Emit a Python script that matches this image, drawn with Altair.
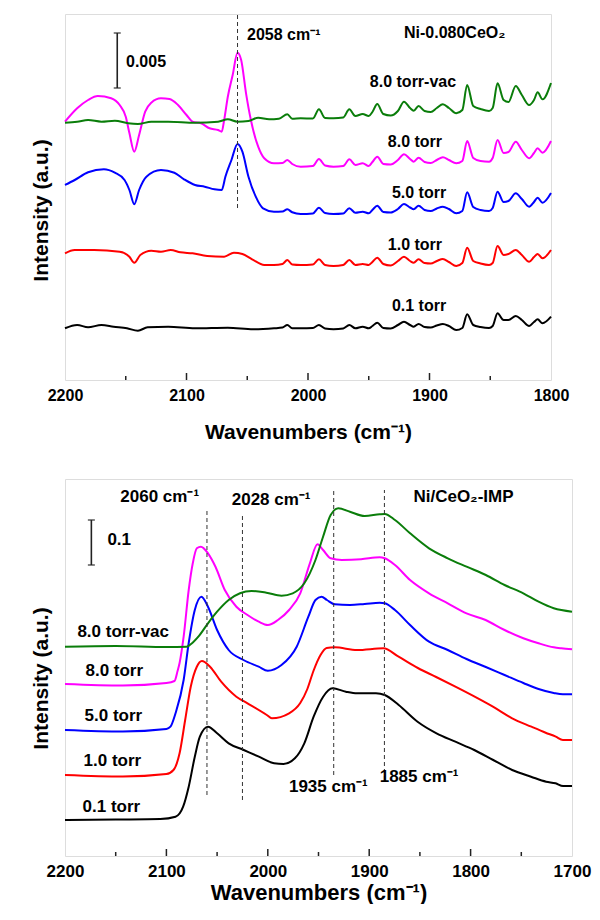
import altair as alt
import pandas as pd

FONT = "Liberation Sans"

# ---------------- top panel (Ni-0.080CeO2) ----------------
top_series = ["0.1 torr", "1.0 torr", "5.0 torr", "8.0 torr", "8.0 torr-vac"]
top_colors = ["#000000", "#ff0000", "#0000ff", "#ff00ff", "#0a7d0a"]

top_right_wn = [2006, 1996, 1991, 1986, 1979, 1971, 1966, 1961, 1955, 1950,
                1947, 1943, 1938, 1932, 1926, 1921, 1916, 1913, 1909, 1904,
                1899, 1894, 1889, 1884, 1878, 1873, 1869, 1864, 1858, 1851,
                1848, 1844, 1839, 1835, 1829, 1824, 1818, 1814, 1811, 1807, 1800]

t_black_wn = [2200, 2190, 2181, 2170, 2160, 2149, 2140, 2132, 2115, 2093, 2066, 2045, 2028, 2021, 2017, 2013]
t_black_h = [51.7, 55, 52.7, 55, 53.3, 51.7, 49.3, 52.7, 53.3, 51.7, 52.3, 50.7, 51.7, 52.5, 55, 51.7,
             51.7, 52, 55, 51.5, 50.7, 51.5, 55, 51.7, 53.3, 51.7, 54, 57.3, 52, 51.5, 55, 58.3, 55, 53.3,
             56, 53, 52.5, 54.5, 56, 54, 50, 52, 65.7, 55, 53, 52, 54, 66.7, 60, 60, 64, 60, 54, 58,
             60.7, 56.7, 63.3]

t_red_wn = [2200, 2192, 2176, 2155, 2147, 2143, 2138, 2129, 2121, 2113, 2105, 2095, 2083, 2069, 2061,
            2054, 2046, 2036, 2028, 2021, 2017, 2013]
t_red_h = [126.7, 130, 130, 128.3, 123.3, 117.3, 125, 129.3, 128.3, 130, 127.7, 126.7, 124, 123.3, 127.3,
           126, 120.7, 115, 115, 116, 120, 115.5,
           115, 115.5, 120.7, 115, 114, 115, 120, 115, 116, 115, 118, 122.3, 116, 114.5, 119, 123.3, 119,
           117.3, 120.7, 117, 116.5, 119, 121, 118, 114, 117, 132.3, 119, 116.5, 115, 117, 134, 125, 126,
           130, 125, 118.3, 123, 126, 121.7, 130]

t_blue_wn = [2200, 2192, 2181, 2168, 2159, 2151, 2147, 2143, 2139, 2133, 2121, 2110, 2102, 2093, 2085,
             2077, 2071, 2068, 2063, 2058, 2054, 2049, 2043, 2037, 2028, 2021, 2017, 2013]
t_blue_h = [195, 200, 207.7, 210.7, 207.3, 200, 190, 175.7, 190, 203.3, 210, 207.3, 200.7, 195, 193.3,
            190.7, 190, 203.3, 220, 236, 228.3, 203.3, 183.3, 171.7, 168.3, 168.5, 170.7, 167.7,
            166, 166.5, 172.3, 167, 166, 166.5, 171.7, 167.3, 168.3, 166.7, 170, 174.3, 168, 167.5, 171,
            176, 172.5, 170.7, 174.3, 170, 169, 171.5, 173.3, 171, 166.7, 169, 187.7, 173, 170, 169, 172,
            188.3, 178, 179, 186.7, 181, 173.3, 178, 182.3, 177.3, 187]

t_mag_wn = [2200, 2190, 2181, 2173, 2162, 2155, 2150, 2147, 2143, 2139, 2134, 2129, 2121, 2114, 2107,
            2100, 2095, 2088, 2081, 2074, 2071, 2069, 2066, 2062, 2058, 2055, 2051, 2047, 2041, 2036,
            2028, 2021, 2017, 2013]
t_mag_h = [258.3, 271.7, 280, 284, 281.7, 275, 263.3, 247, 228.3, 245, 268.3, 277.3, 281.7, 281, 275,
           265, 258.3, 256.7, 251.7, 250, 248.3, 260, 283.3, 305, 327.3, 320, 286.7, 260, 233.3, 221.7,
           216.7, 217, 220, 216,
           213.3, 214, 221, 214.5, 213.3, 214, 220.7, 215, 216.7, 214, 218, 223.3, 216, 215.5, 220, 225.7,
           221, 218.3, 222.3, 218, 217, 220, 222.7, 220, 216.7, 219, 239, 222, 219, 218.3, 222, 240, 227,
           228, 238.3, 230, 221.7, 227, 231.7, 227.3, 239]

t_green_wn = [2200, 2190, 2181, 2170, 2159, 2148, 2140, 2129, 2115, 2093, 2074, 2066, 2058, 2049, 2041,
              2032, 2024, 2017, 2013]
t_green_h = [257.3, 258.3, 260, 258.3, 259.3, 256.7, 256, 258.3, 258.3, 257.3, 258.3, 260.7, 258.3, 259,
             262.3, 260.7, 261.3, 265.7, 261.3,
             261.7, 261.5, 270.7, 262, 261.7, 262.5, 270.7, 264, 266, 264, 268, 276, 266, 264.5, 269,
             278.3, 272, 269.3, 274, 269, 268, 272, 275.7, 272, 266.7, 270, 295, 274, 271, 269, 272,
             296.7, 280, 278, 294, 285, 275, 280, 287.7, 280.7, 297]

# ---------------- bottom panel (Ni/CeO2-IMP) ----------------
b_black_wn = [2200, 2150, 2106, 2091, 2083.5, 2078, 2072, 2067, 2059, 2050, 2038.6, 2023.7, 2008.8,
              1993.8, 1984.5, 1973.3, 1964, 1954.8, 1945.4, 1936.2, 1923, 1911.9, 1893.3, 1884.7,
              1870.9, 1852.3, 1833.6, 1815, 1796.4, 1777.7, 1759, 1740.4, 1725.5, 1716.2, 1708.8, 1700]
b_black_h = [36, 36.5, 37, 39.3, 49.3, 69.3, 99.3, 119.3, 129.3, 122.7, 112.7, 106, 99.3, 92.7, 92, 97.7,
             112.7, 139.3, 159.3, 167.7, 164.3, 162.7, 162.7, 161, 151, 134.3, 122.7, 114.3, 106, 96, 86,
             79.3, 74.3, 72.7, 70, 70]

b_red_wn = [2200, 2143, 2100, 2093, 2087, 2081.5, 2076, 2070, 2065, 2057, 2046, 2031, 2020, 2001, 1996,
            1979, 1968, 1961, 1955, 1948, 1942, 1934, 1912, 1886, 1871, 1852, 1834, 1815, 1796, 1778, 1759,
            1740, 1726, 1716, 1709, 1700]
b_red_h = [81, 79.5, 82, 86, 102.7, 136, 169.3, 189.3, 195, 189.3, 174.3, 159.3, 152.7, 141, 137.7, 142.7,
           153, 167, 185, 201, 208, 208.7, 206, 207.7, 199.3, 188, 179, 169.3, 159.3, 149.3, 137.7,
           129.3, 123.3, 119.3, 116, 116]

b_blue_wn = [2200, 2143, 2100, 2096, 2091, 2083, 2078, 2072, 2065.5, 2059, 2050, 2038.6, 2024, 2009,
             2000, 1986.5, 1971.5, 1960, 1953, 1947, 1941.7, 1934, 1919, 1904.5, 1889.6, 1884.7, 1874.6,
             1859.7, 1841, 1822.5, 1804, 1785, 1766.5, 1748, 1733, 1718, 1709, 1700]
b_blue_h = [126, 124.5, 127, 129.3, 142.7, 176, 213, 246, 259.3, 249.3, 226, 206, 196, 189.3, 185.3, 191,
            209.3, 239.3, 256, 259.3, 256, 251.7, 251, 252, 253.3, 252.7, 246, 231, 214.3, 206, 197, 189,
            181, 173, 167, 163, 161.7, 161.7]

b_mag_wn = [2200, 2143, 2100, 2092, 2089, 2087, 2083, 2078, 2074, 2070, 2066, 2059, 2051.6, 2042.4, 2031,
            2020, 2009, 2000, 1990, 1979, 1968, 1958.5, 1951, 1945.5, 1938, 1927, 1908, 1889.6, 1884.7,
            1874.6, 1859.7, 1841, 1822.5, 1804, 1785.2, 1766.5, 1748, 1733, 1718, 1710.6, 1700]
b_mag_h = [172, 170.5, 173, 175, 185, 193, 219.3, 266, 292.7, 307.7, 309.3, 302.7, 289.3, 266, 249.3, 241,
           234.3, 231, 236, 246, 262.7, 292.7, 311.7, 306, 297.7, 296, 296.7, 298.7, 297.7, 291, 276,
           262.7, 252.7, 242.7, 236, 226, 217.7, 212.7, 208.7, 207.7, 206.7]

b_green_wn = [2200, 2150, 2100, 2080, 2076, 2068.5, 2059, 2050, 2038.6, 2027.4, 2016, 2001.4, 1986.5,
              1975.4, 1964, 1953, 1945.5, 1938, 1930.5, 1919, 1904.5, 1889.6, 1884.7, 1874.6, 1859.7,
              1841, 1822.5, 1804, 1785, 1766.5, 1748, 1733, 1718, 1700]
b_green_h = [209.3, 210, 209, 209.3, 211.7, 219.3, 232.7, 244.3, 256, 262.7, 265, 263.3, 260.3, 262.7,
             272.7, 296, 319.3, 341, 347.7, 344.3, 340, 341.7, 342, 336, 322.7, 307.7, 297.7, 289.3, 281,
             271, 262.7, 254.3, 247.7, 244.3]

# ---------------- annotations ----------------
top_ticks_major = [2100, 2000, 1900]
top_ticks_minor = [2150, 2050, 1950, 1850]
top_labels = [2200, 2100, 2000, 1900, 1800]
bot_ticks_major = [2100, 2000, 1900, 1800]
bot_ticks_minor = [2150, 2050, 1950, 1850, 1750]
bot_labels = [2200, 2100, 2000, 1900, 1800, 1700]

top_series_text = ["8.0 torr-vac", "8.0 torr", "5.0 torr", "1.0 torr", "0.1 torr"]
top_series_text_wn = [1913.6, 1912, 1908.6, 1912, 1908.6]
top_series_text_y = [298.3, 238.3, 186.7, 135, 74]

top_note_text = ["2058 cm⁻¹", "Ni-0.080CeO₂", "0.005"]
top_note_wn = [2050.2, 1921, 2149.8]
top_note_y = [345, 347, 318]

top_dash_wn = [2058]
top_dash_lo = [172]
top_dash_hi = [366]
top_bar_wn = [2157]
top_bar_lo = [292]
top_bar_hi = [347]

bot_series_text = ["8.0 torr-vac", "8.0 torr", "5.0 torr", "1.0 torr", "0.1 torr"]
bot_series_text_wn = [2142.6, 2151.4, 2152.3, 2153.3, 2154.3]
bot_series_text_y = [224, 185, 140, 95, 49]

bot_note_text = ["2060 cm⁻¹", "2028 cm⁻¹", "Ni/CeO₂-IMP", "1935 cm⁻¹", "1885 cm⁻¹"]
bot_note_wn = [2106.6, 1996.7, 1807, 1940.3, 1850.8]
bot_note_y = [359, 356, 359, 69, 79]
bot_scale_text = ["0.1"]
bot_scale_wn = [2158.2]
bot_scale_y = [316]

bot_dash_wn = [2060, 2025, 1935, 1885]
bot_dash_lo = [61, 56, 81, 76]
bot_dash_hi = [346, 341, 366, 366]
bot_bar_wn = [2174]
bot_bar_lo = [291]
bot_bar_hi = [336]


def series_frame(items):
    rows = []
    for name, wn, h in items:
        for w, v in zip(wn, h):
            rows.append({"series": name, "wn": w, "value": v})
    return pd.DataFrame(rows)


top_df = series_frame([
    ("0.1 torr", t_black_wn + top_right_wn, t_black_h),
    ("1.0 torr", t_red_wn + top_right_wn, t_red_h),
    ("5.0 torr", t_blue_wn + top_right_wn, t_blue_h),
    ("8.0 torr", t_mag_wn + top_right_wn, t_mag_h),
    ("8.0 torr-vac", t_green_wn + top_right_wn, t_green_h),
])
bot_df = series_frame([
    ("0.1 torr", b_black_wn, b_black_h),
    ("1.0 torr", b_red_wn, b_red_h),
    ("5.0 torr", b_blue_wn, b_blue_h),
    ("8.0 torr", b_mag_wn, b_mag_h),
    ("8.0 torr-vac", b_green_wn, b_green_h),
])


def panel(df, xdomain, labels, ymax, width, height, fs, title_fs, title_pad, ytitle_y, major, minor,
          series_txt, notes, notes_align, extra_notes, dash, bar, interp, cap):
    xs = alt.Scale(domain=xdomain, nice=False, zero=False)
    ys = alt.Scale(domain=[0, ymax], nice=False, zero=False)
    xaxis = alt.Axis(values=labels, ticks=False, domain=False, grid=False, format="d",
                     labelFont=FONT, labelFontWeight="bold", labelFontSize=fs, labelColor="black",
                     labelPadding=7, labelFlush=False, labelOverlap=False,
                     title="Wavenumbers (cm⁻¹)", titleFont=FONT, titleFontWeight="bold",
                     titleFontSize=title_fs, titleColor="black", titlePadding=title_pad)
    yaxis = alt.Axis(labels=False, ticks=False, domain=False, grid=False,
                     title="Intensity (a.u.)", titleFont=FONT, titleFontWeight="bold",
                     titleFontSize=21, titleColor="black", titleX=-24, titleY=ytitle_y,
                     titleBaseline="middle", titleAngle=270)
    X = lambda f: alt.X(f, scale=xs, axis=xaxis)
    Y = lambda f: alt.Y(f, scale=ys, axis=yaxis)
    lines = alt.Chart(df).mark_line(strokeWidth=2, interpolate=interp).encode(
        x=X("wn:Q"),
        y=Y("value:Q"),
        color=alt.Color("series:N", scale=alt.Scale(domain=top_series, range=top_colors), legend=None),
        detail="series:N",
    )
    tmaj = alt.Chart(pd.DataFrame({"wn": major})).mark_rule(color="#222", strokeWidth=1.5).encode(
        x=X("wn:Q"), y=alt.value(height), y2=alt.value(height - 7))
    tmin = alt.Chart(pd.DataFrame({"wn": minor})).mark_rule(color="#222", strokeWidth=1.5).encode(
        x=X("wn:Q"), y=alt.value(height), y2=alt.value(height - 4))
    dwn, dlo, dhi = dash
    dashes = alt.Chart(pd.DataFrame({"wn": dwn, "value": dlo, "hi": dhi})).mark_rule(
        color="#333", strokeWidth=1, strokeDash=[4, 3]).encode(
        x=X("wn:Q"), y=Y("value:Q"), y2="hi:Q")
    bwn, blo, bhi = bar
    bar_rule = alt.Chart(pd.DataFrame({"wn": bwn, "value": blo, "hi": bhi})).mark_rule(
        color="#222", strokeWidth=1.6).encode(
        x=X("wn:Q"), y=Y("value:Q"), y2="hi:Q")
    caps = alt.Chart(pd.DataFrame({"wn": bwn * 2, "value": blo + bhi})).mark_tick(
        orient="horizontal", size=cap, thickness=1.6, color="#222").encode(
        x=X("wn:Q"), y=Y("value:Q"))
    st, swn, sy = series_txt
    stext = alt.Chart(pd.DataFrame({"t": st, "wn": swn, "value": sy})).mark_text(
        font=FONT, fontWeight="bold", fontSize=fs, color="black", align="center", baseline="middle").encode(
        x=X("wn:Q"), y=Y("value:Q"), text="t:N")
    nt, nwn, ny = notes
    ntext = alt.Chart(pd.DataFrame({"t": nt, "wn": nwn, "value": ny})).mark_text(
        font=FONT, fontWeight="bold", fontSize=fs, color="black", align=notes_align, baseline="middle").encode(
        x=X("wn:Q"), y=Y("value:Q"), text="t:N")
    layers = [lines, dashes, tmaj, tmin, bar_rule, caps, stext, ntext]
    if extra_notes is not None:
        et, ewn, ey = extra_notes
        layers.append(alt.Chart(pd.DataFrame({"t": et, "wn": ewn, "value": ey})).mark_text(
            font=FONT, fontWeight="bold", fontSize=fs, color="black", align="left", baseline="middle").encode(
            x=X("wn:Q"), y=Y("value:Q"), text="t:N"))
    return alt.layer(*layers).properties(width=width, height=height)


top = panel(top_df, [2200, 1800], top_labels, 366, 486, 366, 16, 21, 18, 196,
            top_ticks_major, top_ticks_minor,
            (top_series_text, top_series_text_wn, top_series_text_y),
            (top_note_text, top_note_wn, top_note_y), "left", None,
            (top_dash_wn, top_dash_lo, top_dash_hi), (top_bar_wn, top_bar_lo, top_bar_hi),
            "monotone", 7)
bottom = panel(bot_df, [2200, 1700], bot_labels, 377, 507, 377, 17, 22, 3, 199,
               bot_ticks_major, bot_ticks_minor,
               (bot_series_text, bot_series_text_wn, bot_series_text_y),
               (bot_note_text, bot_note_wn, bot_note_y), "center",
               (bot_scale_text, bot_scale_wn, bot_scale_y),
               (bot_dash_wn, bot_dash_lo, bot_dash_hi), (bot_bar_wn, bot_bar_lo, bot_bar_hi),
               "monotone", 7)

chart = alt.vconcat(top, bottom, spacing=35).properties(
    padding={"left": 21, "top": 5, "right": 0, "bottom": 0}
).configure_view(stroke="#222", strokeWidth=1.6).configure(font=FONT)

chart.save("out.html", embed_options={"renderer": "svg", "actions": False})
